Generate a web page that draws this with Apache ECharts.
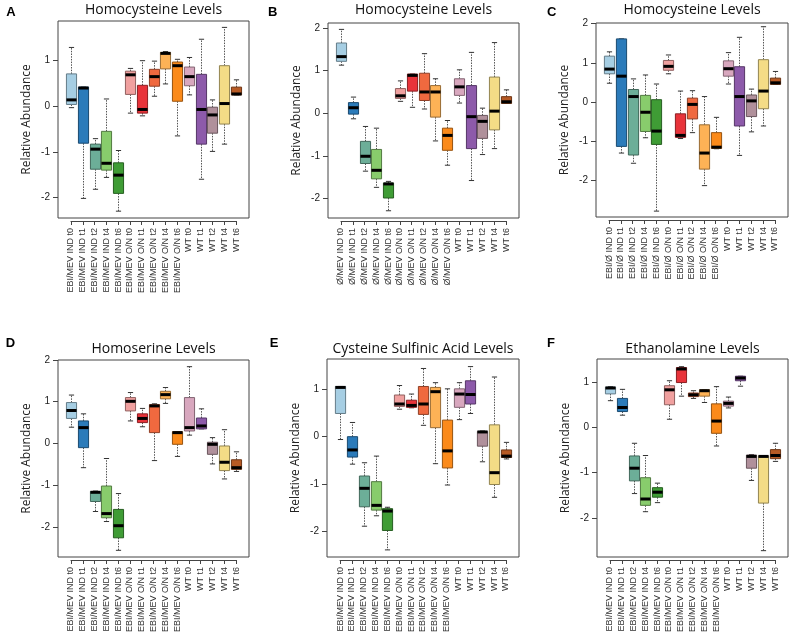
<!DOCTYPE html>
<html><head><meta charset="utf-8">
<script src="https://cdn.jsdelivr.net/npm/echarts@6.0.0/dist/echarts.min.js"></script>
<style>html,body{margin:0;padding:0;background:#fff}#c{width:793px;height:637px}</style>
</head><body><div id="c"></div>
<script>
// ---- category labels ----
const labelsEbiMev = ['EBI/MEV IND t0','EBI/MEV IND t1','EBI/MEV IND t2','EBI/MEV IND t4','EBI/MEV IND t6','EBI/MEV O/N t0','EBI/MEV O/N t1','EBI/MEV O/N t2','EBI/MEV O/N t4','EBI/MEV O/N t6','WT t0','WT t1','WT t2','WT t4','WT t6'];
const labelsMev = ['Ø/MEV IND t0','Ø/MEV IND t1','Ø/MEV IND t2','Ø/MEV IND t4','Ø/MEV IND t6','Ø/MEV O/N t0','Ø/MEV O/N t1','Ø/MEV O/N t2','Ø/MEV O/N t4','Ø/MEV O/N t6','WT t0','WT t1','WT t2','WT t4','WT t6'];
const labelsEbi = ['EBI/Ø IND t0','EBI/Ø IND t1','EBI/Ø IND t2','EBI/Ø IND t4','EBI/Ø IND t6','EBI/Ø O/N t0','EBI/Ø O/N t1','EBI/Ø O/N t2','EBI/Ø O/N t4','EBI/Ø O/N t6','WT t0','WT t1','WT t2','WT t4','WT t6'];

// ---- y tick labels ----
const ticksA = [-2,-1,0,1];
const ticksB = [-2,-1,0,1,2];
const ticksC = [-2,-1,0,1,2];
const ticksD = [-2,-1,0,1,2];
const ticksE = [-2,-1,0,1];
const ticksF = [-2,-1,0,1];

// ---- box statistics: [lower whisker, Q1, median, Q3, upper whisker] ----
const boxesA = [
  [-0.03,0.04,0.14,0.71,1.29],[-2.02,-0.81,0.40,0.42,0.42],[-1.82,-1.38,-0.94,-0.83,-0.71],
  [-1.56,-1.40,-1.25,-0.55,0.16],[-2.30,-1.91,-1.51,-1.24,-0.97],[-0.15,0.26,0.69,0.77,0.83],
  [-0.21,-0.15,-0.07,0.46,1.00],[0.22,0.44,0.65,0.81,0.99],[0.49,0.82,1.16,1.18,1.20],
  [-0.65,0.11,0.89,0.97,1.03],[0.25,0.45,0.65,0.86,1.07],[-1.60,-0.83,-0.07,0.70,1.47],
  [-0.99,-0.59,-0.19,-0.02,0.14],[-0.83,-0.39,0.06,0.89,1.73],[0.25,0.25,0.27,0.42,0.58]
];
const boxesB = [
  [1.13,1.22,1.33,1.65,1.97],[-0.13,-0.02,0.13,0.25,0.38],[-1.36,-1.18,-1.01,-0.66,-0.31],
  [-1.74,-1.54,-1.34,-0.85,-0.35],[-2.29,-1.99,-1.66,-1.64,-1.60],[0.28,0.35,0.41,0.58,0.76],
  [0.14,0.52,0.89,0.92,0.92],[0.10,0.30,0.50,0.94,1.40],[-0.65,-0.09,0.50,0.65,0.81],
  [-1.22,-0.87,-0.52,-0.35,-0.17],[0.24,0.42,0.62,0.81,1.02],[-1.58,-0.83,-0.08,0.65,1.43],
  [-0.97,-0.59,-0.19,-0.05,0.12],[-0.83,-0.39,0.05,0.85,1.66],[0.23,0.23,0.27,0.39,0.55]
];
const boxesC = [
  [0.48,0.72,0.84,1.17,1.28],[-1.30,-1.13,0.66,1.61,1.61],[-1.56,-1.35,0.14,0.32,0.59],
  [-0.91,-0.75,-0.26,0.17,0.69],[-2.78,-1.08,-0.74,0.06,0.46],[0.72,0.81,0.91,1.06,1.20],
  [-0.93,-0.90,-0.85,-0.30,0.28],[-0.78,-0.43,-0.06,0.10,0.29],[-2.13,-1.71,-1.30,-0.58,0.14],
  [-1.19,-1.18,-1.15,-0.78,-0.39],[0.46,0.66,0.85,1.05,1.26],[-1.36,-0.61,0.14,0.90,1.65],
  [-0.76,-0.37,0.03,0.18,0.33],[-0.61,-0.17,0.28,1.08,1.92],[0.45,0.45,0.49,0.61,0.78]
];
const boxesD = [
  [0.39,0.60,0.79,0.98,1.16],[-0.58,-0.10,0.38,0.54,0.71],[-1.63,-1.39,-1.17,-1.15,-1.14],
  [-1.87,-1.78,-1.68,-1.02,-0.36],[-2.56,-2.26,-1.97,-1.58,-1.20],[0.54,0.78,1.01,1.10,1.22],
  [0.40,0.50,0.60,0.71,0.84],[-0.41,0.26,0.90,0.93,0.95],[0.96,1.07,1.17,1.25,1.34],
  [-0.31,-0.02,0.26,0.28,0.28],[0.20,0.30,0.38,1.10,1.84],[0.35,0.35,0.42,0.61,0.83],
  [-0.49,-0.26,-0.02,0.03,0.14],[-0.85,-0.65,-0.45,-0.06,0.33],[-0.67,-0.62,-0.58,-0.39,-0.20]
];
const boxesE = [
  [-0.06,0.49,1.04,1.06,1.06],[-0.58,-0.43,-0.28,0.00,0.30],[-1.89,-1.48,-1.09,-0.83,-0.55],
  [-1.67,-1.55,-1.45,-0.95,-0.41],[-2.39,-1.98,-1.57,-1.52,-1.49],[0.58,0.64,0.69,0.88,1.08],
  [0.61,0.62,0.66,0.77,0.90],[0.24,0.47,0.69,1.06,1.44],[-0.57,0.19,0.95,1.04,1.14],
  [-1.02,-0.66,-0.30,0.35,1.01],[0.36,0.62,0.90,1.01,1.14],[0.49,0.69,0.89,1.18,1.48],
  [-0.53,-0.20,0.10,0.11,0.12],[-1.28,-1.01,-0.76,0.25,1.26],[-0.47,-0.44,-0.41,-0.28,-0.12]
];
const boxesF = [
  [0.59,0.74,0.87,0.89,0.90],[0.27,0.35,0.44,0.64,0.84],[-1.46,-1.18,-0.90,-0.63,-0.35],
  [-1.86,-1.72,-1.58,-1.11,-0.62],[-1.66,-1.54,-1.43,-1.33,-1.23],[0.18,0.50,0.83,0.92,1.03],
  [0.69,0.99,1.29,1.32,1.34],[0.64,0.68,0.72,0.76,0.81],[0.55,0.69,0.81,0.83,0.83],
  [-0.41,-0.13,0.14,0.52,0.90],[0.43,0.47,0.53,0.58,0.67],[0.91,1.03,1.09,1.13,1.13],
  [-1.17,-0.90,-0.64,-0.61,-0.60],[-2.72,-1.67,-0.64,-0.63,-0.63],[-0.75,-0.69,-0.62,-0.49,-0.35]
];

// ---- colours ----
const fills = ['#a6cee3','#2b7bba','#6cae98','#88cc6c','#3f9c35','#f0a09f','#e8333a','#f0693f','#fdb256','#fb8a1a','#d8a7be','#8d5aaa','#b0909b','#f4dc86','#b75a24'];

function darken(hex, f) {
  const n = parseInt(hex.slice(1), 16);
  const r = Math.round(((n >> 16) & 255) * f), g = Math.round(((n >> 8) & 255) * f), b = Math.round((n & 255) * f);
  return 'rgb(' + r + ',' + g + ',' + b + ')';
}
const borders = fills.map(c => darken(c, 0.6));

const panels = [
  {letter:'A', title:'Homocysteine Levels', labels:labelsEbiMev, boxes:boxesA, ticks:ticksA, L:58, T:21, W:191, H:197, min:-2.45, max:1.87, titleY:10, letterX:11, letterY:12.5},
  {letter:'B', title:'Homocysteine Levels', labels:labelsMev, boxes:boxesB, ticks:ticksB, L:328, T:23, W:191, H:195, min:-2.46, max:2.12, titleY:10, letterX:272.8, letterY:12.5},
  {letter:'C', title:'Homocysteine Levels', labels:labelsEbi, boxes:boxesC, ticks:ticksC, L:596, T:23, W:192, H:194, min:-2.93, max:2.015, titleY:10, letterX:551.7, letterY:12},
  {letter:'D', title:'Homoserine Levels', labels:labelsEbiMev, boxes:boxesD, ticks:ticksD, L:58, T:360, W:191, H:197, min:-2.72, max:2.0, titleY:348.7, letterX:10.5, letterY:343.8},
  {letter:'E', title:'Cysteine Sulfinic Acid Levels', labels:labelsEbiMev, boxes:boxesE, ticks:ticksE, L:327, T:359, W:192, H:198, min:-2.54, max:1.64, titleY:349.3, letterX:274, letterY:343.8},
  {letter:'F', title:'Ethanolamine Levels', labels:labelsEbiMev, boxes:boxesF, ticks:ticksF, L:597, T:359, W:191, H:198, min:-2.86, max:1.51, titleY:349.3, letterX:551, letterY:343.8}
];

const FONT = '"Liberation Sans", Arial, sans-serif';
const TFONT = '"Open Sans", "Liberation Sans", sans-serif';

function renderBox(params, api) {
  const i = params.dataIndex;
  const xi = api.value(0);
  const lo = api.coord([xi, api.value(1)]);
  const q1 = api.coord([xi, api.value(2)]);
  const md = api.coord([xi, api.value(3)]);
  const q3 = api.coord([xi, api.value(4)]);
  const hi = api.coord([xi, api.value(5)]);
  const bw = api.size([1, 0])[0];
  const x = Math.round(lo[0]) + 0.5;
  const hb = bw * 0.43, hs = bw * 0.22;
  const wh = {stroke:'#555', lineWidth:1, lineDash:[1.5,1.2]};
  const st = {stroke:'#333', lineWidth:1};
  return {type:'group', children:[
    {type:'line', shape:{x1:x, y1:q3[1], x2:x, y2:hi[1]}, style:wh},
    {type:'line', shape:{x1:x, y1:q1[1], x2:x, y2:lo[1]}, style:wh},
    {type:'line', shape:{x1:x-hs, y1:hi[1], x2:x+hs, y2:hi[1]}, style:st},
    {type:'line', shape:{x1:x-hs, y1:lo[1], x2:x+hs, y2:lo[1]}, style:st},
    {type:'rect', shape:{x:x-hb, y:q3[1], width:2*hb, height:Math.max(q1[1]-q3[1], 0.5)}, style:{fill:fills[i], stroke:borders[i], lineWidth:1}},
    {type:'line', shape:{x1:x-hb, y1:md[1], x2:x+hb, y2:md[1]}, style:{stroke:'#000', lineWidth:3}}
  ]};
}

const option = {animation:false, backgroundColor:'#fff', grid:[], xAxis:[], yAxis:[], series:[], graphic:[]};

panels.forEach((p, k) => {
  const s = p.W / 16.2;
  const fg = 2 * k, dg = 2 * k + 1;
  option.grid.push({left:p.L, top:p.T, width:p.W, height:p.H, show:true, borderColor:'#444', borderWidth:1, backgroundColor:'transparent'});
  option.grid.push({left:p.L + 1.1 * s, top:p.T, width:p.W - 2.2 * s, height:p.H});
  option.xAxis.push({type:'value', gridIndex:fg, show:false, min:0, max:1});
  option.yAxis.push({type:'value', gridIndex:fg, min:p.min, max:p.max,
    axisLine:{show:false}, splitLine:{show:false},
    axisTick:{show:true, length:5, customValues:p.ticks, lineStyle:{color:'#444'}},
    axisLabel:{customValues:p.ticks, fontSize:10, color:'#222', margin:8, fontFamily:FONT},
    name:'Relative Abundance', nameLocation:'middle', nameGap:25,
    nameTextStyle:{fontSize:12, color:'#222', fontFamily:TFONT}});
  option.xAxis.push({type:'category', gridIndex:dg, data:p.labels, boundaryGap:false, offset:3, position:'bottom',
    axisLine:{show:true, onZero:false, lineStyle:{color:'#444', width:1}},
    axisTick:{show:true, length:4, interval:0, lineStyle:{color:'#444'}},
    axisLabel:{rotate:90, interval:0, fontSize:9, color:'#333', margin:7, fontFamily:FONT},
    splitLine:{show:false}});
  option.yAxis.push({type:'value', gridIndex:dg, min:p.min, max:p.max, show:false});
  option.series.push({type:'custom', xAxisIndex:k * 2 + 1, yAxisIndex:k * 2 + 1, clip:false,
    renderItem:renderBox, encode:{x:0, y:[1,2,3,4,5]},
    data:p.boxes.map((b, i) => [i].concat(b))});
  option.graphic.push({type:'text', x:p.L + p.W / 2, y:p.titleY, style:{text:p.title, align:'center', verticalAlign:'middle', font:'14px ' + TFONT, fill:'#111'}});
  option.graphic.push({type:'text', x:p.letterX, y:p.letterY, style:{text:p.letter, align:'center', verticalAlign:'middle', font:'bold 13px ' + FONT, fill:'#000'}});
});

const chart = echarts.init(document.getElementById('c'), null, {renderer:'canvas'});
chart.setOption(option);
</script>
</body></html>
